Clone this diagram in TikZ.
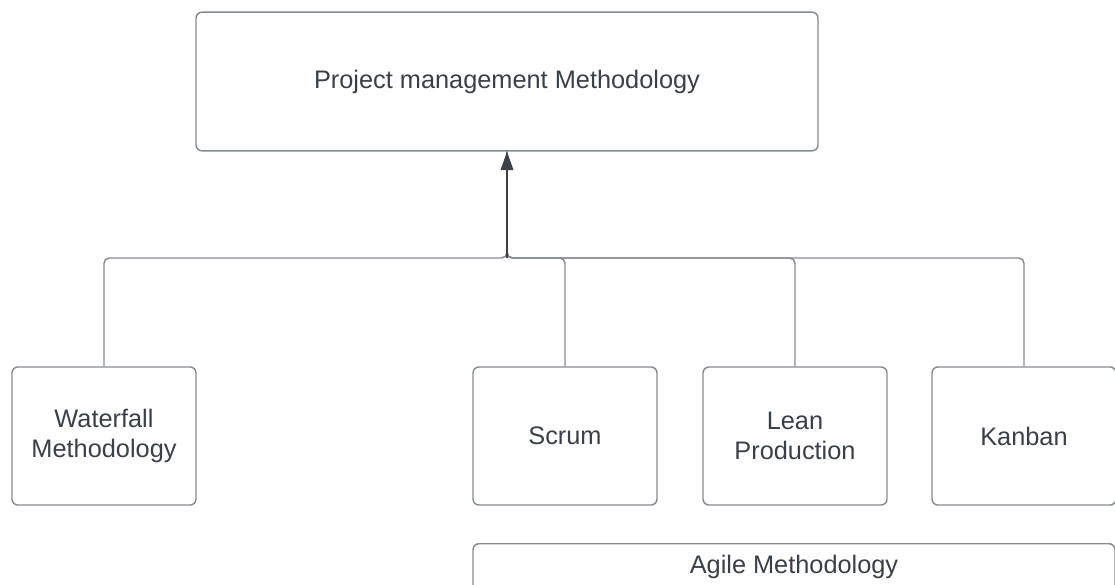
\documentclass[tikz,border=0pt]{standalone}
\usepackage{fontspec}
\setmainfont{Liberation Sans}
\usepackage{tikz}
\usetikzlibrary{arrows.meta}

\definecolor{boxline}{HTML}{868B92}
\definecolor{txt}{HTML}{3A4049}
\definecolor{darkline}{HTML}{3C4149}

\begin{document}
\begin{tikzpicture}[x=0.75pt,y=-0.75pt,
  box/.style={draw=boxline,line width=1.1pt,rounded corners=4.5pt,fill=white,
    text=txt,align=center,inner sep=0pt,font=\fontsize{19}{23}\selectfont},
  method/.style={box,minimum width=138pt,minimum height=103.5pt},
  branch/.style={draw=boxline,line width=1.1pt,rounded corners=4pt},
  toparrow/.style={draw=darkline,line width=1.3pt,-{Triangle[length=14pt,width=9.5pt]}}]
\useasboundingbox (0,0) rectangle (1115,585);
\node [box,minimum width=466.5pt,minimum height=104pt] (pm) at (507,81.5) {Project management Methodology};
\node [method] (wf) at (104,436) {Waterfall\\Methodology};
\node [method] (scrum) at (565,436) {Scrum};
\node [method] (lean) at (795,436) {Lean\\Production};
\node [method] (kanban) at (1024,436) {Kanban};
\node [box,anchor=north,minimum width=481.5pt,text height=22pt,text depth=40pt] (agile) at (794,543) {Agile Methodology};
\coordinate (hub) at (507,258);
\foreach \c in {wf,scrum,lean,kanban}
  \draw [branch] (\c.north) |- (hub) -- (pm.south);
\draw [toparrow] (hub) -- (pm.south);
\end{tikzpicture}
\end{document}
